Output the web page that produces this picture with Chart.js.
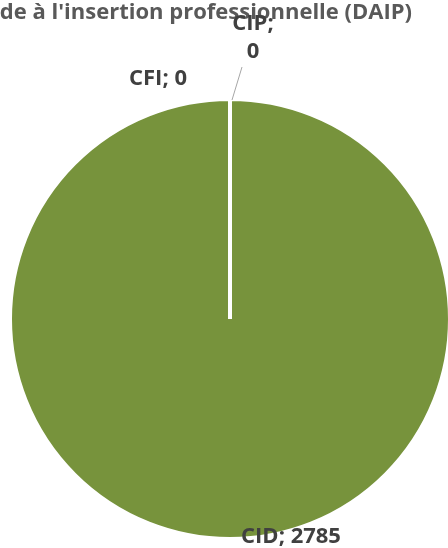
<!DOCTYPE html>
<html>
<head>
<meta charset="utf-8">
<script src="https://cdn.jsdelivr.net/npm/chart.js@4"></script>
<style>
  html, body { margin: 0; padding: 0; background: #fff; overflow: hidden; }
  #wrap { width: 452px; height: 548px; position: relative; }
</style>
</head>
<body>
<div id="wrap"><canvas id="pieChart"></canvas></div>
<script>
const titleText = "de à l'insertion professionnelle (DAIP)";
const categories = ['CFI', 'CIP', 'CID'];
const values = [0, 0, 2785];

// label placement relative to the slice's edge point (dx, dy) and line wrapping
const labelOpts = [
  { dx: -72, dy: -20, wrap: false, leader: false },
  { dx: 23, dy: -61, wrap: true, leader: true },
  { dx: 61, dy: -2, wrap: false, leader: false }
];

const FONT = '"Open Sans", "DejaVu Sans", sans-serif';

const labelsPlugin = {
  id: 'pieLabels',
  afterDatasetsDraw(chart) {
    const ctx = chart.ctx;
    const arcs = chart.getDatasetMeta(0).data;
    ctx.save();

    // title (left part is cut off in the original)
    ctx.font = 'bold 22px ' + FONT;
    ctx.fillStyle = '#595959';
    ctx.textAlign = 'right';
    ctx.textBaseline = 'alphabetic';
    ctx.fillText(titleText, 412, 19);

    arcs.forEach((arc, i) => {
      const { x, y, startAngle, endAngle, outerRadius } = arc.getProps(['x', 'y', 'startAngle', 'endAngle', 'outerRadius'], true);
      const mid = (startAngle + endAngle) / 2;
      const ex = x + Math.cos(mid) * outerRadius;
      const ey = y + Math.sin(mid) * outerRadius;
      const o = labelOpts[i];
      const lx = ex + o.dx;
      const ly = ey + o.dy;

      if (o.leader) {
        ctx.strokeStyle = '#a6a6a6';
        ctx.lineWidth = 1;
        ctx.beginPath();
        ctx.moveTo(ex + 2, ey + 1);
        ctx.lineTo(ex + 12, ey - 32);
        ctx.stroke();
      }

      const lines = o.wrap ? [categories[i] + ';', String(values[i])] : [categories[i] + '; ' + values[i]];
      ctx.font = 'bold 22px ' + FONT;
      ctx.fillStyle = '#404040';
      ctx.textAlign = 'center';
      ctx.textBaseline = 'middle';
      const lh = 28;
      lines.forEach((t, k) => {
        ctx.fillText(t, lx, ly + (k - (lines.length - 1) / 2) * lh);
      });
    });
    ctx.restore();
  }
};

new Chart(document.getElementById('pieChart'), {
  type: 'pie',
  data: {
    labels: categories,
    datasets: [{
      data: values,
      backgroundColor: ['#4f81bd', '#c0504d', '#77933c'],
      borderColor: '#ffffff',
      borderWidth: 4
    }]
  },
  options: {
    responsive: true,
    maintainAspectRatio: false,
    animation: false,
    layout: { padding: { left: 8, right: 0, top: 97, bottom: 7 } },
    plugins: {
      legend: { display: false },
      tooltip: { enabled: false },
      title: { display: false }
    }
  },
  plugins: [labelsPlugin]
});
</script>
</body>
</html>
